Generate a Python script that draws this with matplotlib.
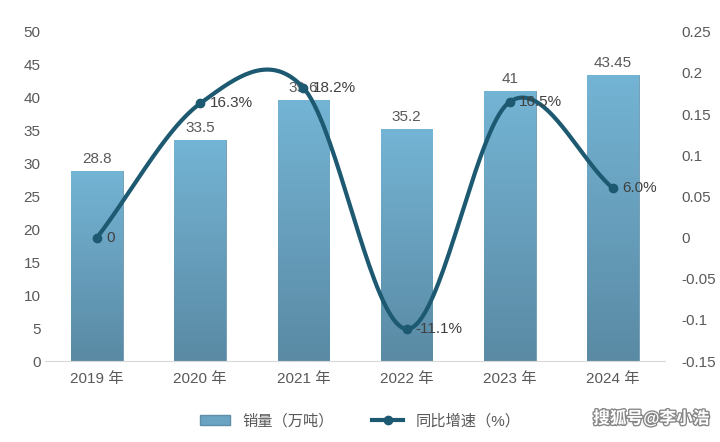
import numpy as np
import matplotlib.pyplot as plt
import matplotlib as mpl
import matplotlib.patheffects as pe
from matplotlib.colors import LinearSegmentedColormap
from matplotlib.patches import Patch
from matplotlib.lines import Line2D

mpl.rcParams['font.family'] = ['Liberation Sans', 'Noto Sans CJK SC']
mpl.rcParams['axes.unicode_minus'] = False

years = ['2019 年', '2020 年', '2021 年', '2022 年', '2023 年', '2024 年']
sales = [28.8, 33.5, 39.6, 35.2, 41, 43.45]
sales_labels = ['28.8', '33.5', '39.6', '35.2', '41', '43.45']
growth = [0, 0.163, 0.182, -0.111, 0.165, 0.060]
growth_labels = ['0', '16.3%', '18.2%', '-11.1%', '16.5%', '6.0%']

line_color = '#1d5a72'
text_color = '#595959'


def catmull_rom(x, y, n=40):
    # smooth curve through the points (Excel-style smoothing)
    x = np.asarray(x, float)
    y = np.asarray(y, float)
    px = np.concatenate([[2 * x[0] - x[1]], x, [2 * x[-1] - x[-2]]])
    py = np.concatenate([[2 * y[0] - y[1]], y, [2 * y[-1] - y[-2]]])
    xs, ys = [], []
    t = np.linspace(0, 1, n)
    for i in range(1, len(px) - 2):
        for p, out in ((px, xs), (py, ys)):
            p0, p1, p2, p3 = p[i - 1], p[i], p[i + 1], p[i + 2]
            out.extend(0.5 * (2 * p1 + (-p0 + p2) * t
                              + (2 * p0 - 5 * p1 + 4 * p2 - p3) * t ** 2
                              + (-p0 + 3 * p1 - 3 * p2 + p3) * t ** 3))
    return np.array(xs), np.array(ys)


fig = plt.figure(figsize=(7.2, 4.42), dpi=100)
ax = fig.add_axes([0.063, 0.183, 0.86, 0.745])
ax2 = ax.twinx()

x = np.arange(len(years))
cmap = LinearSegmentedColormap.from_list('bar', ['#74b4d4', '#5a8aa4'])
grad = np.linspace(0, 1, 256).reshape(-1, 1)
bars = ax.bar(x, sales, width=0.5, color='none')
for b in bars:
    im = ax.imshow(grad, cmap=cmap, aspect='auto', origin='upper',
                   extent=[b.get_x(), b.get_x() + b.get_width(), 0, b.get_height()], zorder=1)
    im.set_clip_path(b)
    b.set_edgecolor('#5e8ea8')
    b.set_linewidth(0.6)
for xi, v, s in zip(x, sales, sales_labels):
    ax.text(xi, v + 0.8, s, ha='center', va='bottom', fontsize=11, color=text_color)

ax.set_xlim(-0.5, len(years) - 0.5)
ax.set_ylim(0, 50)
ax.set_yticks(np.arange(0, 51, 5))
ax.set_xticks(x)
ax.set_xticklabels(years)

sx, sy = catmull_rom(x, growth)
ax2.plot(sx, sy, color=line_color, lw=3, zorder=3)
ax2.plot(x, growth, 'o', color=line_color, ms=6, zorder=4)
for xi, v, s in zip(x, growth, growth_labels):
    ax2.text(xi + 0.09, v, s, ha='left', va='center', fontsize=11, color='#404040', zorder=5)
ax2.set_ylim(-0.15, 0.25)
ax2.set_yticks(np.arange(-0.15, 0.251, 0.05))
ax2.set_yticklabels(['-0.15', '-0.1', '-0.05', '0', '0.05', '0.1', '0.15', '0.2', '0.25'])

for a in (ax, ax2):
    for sp in a.spines.values():
        sp.set_visible(False)
    a.tick_params(length=0, labelsize=11, colors=text_color)
ax.spines['bottom'].set_visible(True)
ax.spines['bottom'].set_color('#d9d9d9')
ax.tick_params(axis='x', pad=8)
ax2.tick_params(axis='y', pad=12)

handles = [Patch(facecolor='#6aa4c2', edgecolor='#5e8ea8'),
           Line2D([0], [0], color=line_color, lw=3, marker='o', ms=6)]
fig.legend(handles, ['销量（万吨）', '同比增速（%）'], loc='lower center',
           bbox_to_anchor=(0.5, 0.0), ncol=2, frameon=False, fontsize=11,
           labelcolor=text_color, columnspacing=2.5)
fig.text(0.985, 0.035, '搜狐号@李小浩', ha='right', va='bottom', fontsize=12,
         color='white', fontweight='bold',
         path_effects=[pe.withStroke(linewidth=2, foreground='#888888')])

fig.savefig('out.png', dpi=100)
